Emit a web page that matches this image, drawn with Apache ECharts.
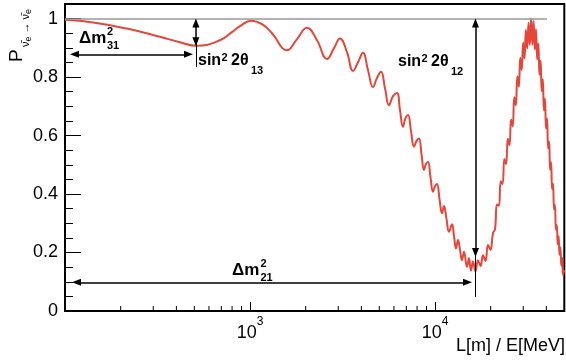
<!DOCTYPE html>
<html><head><meta charset="utf-8">
<script src="https://cdn.jsdelivr.net/npm/echarts@6/dist/echarts.min.js"></script>
<style>html,body{margin:0;padding:0;background:#fff}#c{width:566px;height:360px}</style>
</head><body><div id="c"></div>
<script>
// L/E values (m/MeV)
const lOverE = [100,142,216,326,418,517,688,799,883,1012,1161,1315,1585,1795,2033,2302,2608,2846,3065,3344,3606,3836,4081,4343,4623,4859,5107,5367,5641,5929,6232,6468,6714,6926,7147,7419,7699,7943,8194,8453,8720,8940,9167,9456,9755,10000,10250,10576,10910,11184,11538,11905,12358,12670,12990,13317,13652,13996,14348,14894,15268,15652,16046,16552,17078,17620,18180,18750,19349,19953,20588,
21110,21630,22150,22670,23190,23710,24230,24750,25270,25790,26310,26830,27350,27870,28390,28910,29430,29950,30470,30990,31510,32030,32550,33070,33590,34110,34630,35150,35670,36190,36710,37230,37750,38270,38790,39310,39830,40350,40870,41390,41910,42430,42950,43470,43990,44510,45030,45550,46070,46590,47110,47630,48150,48670,49190,50000];
// survival probability
const prob = [0.996,0.987,0.966,0.938,0.919,0.907,0.926,0.954,0.974,0.993,0.981,0.950,0.892,0.930,0.969,0.926,0.862,0.899,0.932,0.885,0.821,0.851,0.883,0.824,0.766,0.797,0.818,0.762,0.704,0.735,0.746,0.687,0.630,0.660,0.670,0.615,0.562,0.581,0.590,0.537,0.482,0.503,0.510,0.458,0.408,0.427,0.434,0.383,0.334,0.359,0.315,0.271,0.297,0.256,0.214,0.243,0.209,0.174,0.203,0.151,0.180,0.138,0.169,0.135,0.174,0.154,0.191,0.171,0.226,0.209,0.267,
0.280,0.364,0.360,0.444,0.434,0.520,0.502,0.589,0.567,0.655,0.632,0.731,0.704,0.803,0.767,0.866,0.824,0.918,0.864,0.962,0.898,0.986,0.910,1.000,0.911,0.992,0.895,0.964,0.861,0.915,0.808,0.856,0.752,0.793,0.686,0.726,0.624,0.658,0.557,0.580,0.483,0.509,0.416,0.435,0.347,0.363,0.278,0.294,0.228,0.256,0.192,0.218,0.156,0.182,0.124,0.140];
// axis tick values
const xMinorTicks = [200,300,400,500,600,700,800,900,2000,3000,4000,5000,6000,7000,8000,9000,20000,30000,40000];
const xLabelValues = [1000, 10000];
const xLabelExps = ['3', '4'];

const FONT = 'Liberation Sans, Arial, Helvetica, sans-serif';
const chart = echarts.init(document.getElementById('c'), null, {renderer: 'canvas'});

function txt(x, y, s, size, bold, extra) {
  return {
    type: 'text', x: x, y: y, silent: true, z: 100,
    style: Object.assign({text: s, fill: '#000', font: (bold ? 'bold ' : '') + size + 'px ' + FONT,
      align: 'left', verticalAlign: 'middle'}, extra || {})
  };
}

const graphics = [
  // Δm²31
  txt(79, 38, 'Δm', 17, true), txt(107, 31.5, '2', 11, true), txt(107, 46, '31', 11, true),
  // Δm²21
  txt(232, 270.5, 'Δm', 17, true), txt(260.5, 264, '2', 11, true), txt(260.5, 278, '21', 11, true),
  // sin² 2θ13
  txt(198, 61, 'sin', 16, true), txt(221.5, 57.5, '2', 11, true), txt(231, 61, '2θ', 16, true), txt(251, 70.5, '13', 11, true),
  // sin² 2θ12
  txt(398, 62, 'sin', 16, true), txt(421.5, 58.5, '2', 11, true), txt(431, 62, '2θ', 16, true), txt(451, 71.5, '12', 11, true),
  // x axis title
  txt(565, 346, 'L[m] / E[MeV]', 18, false, {align: 'right'}),
  // y axis title (rotated)
  {
    type: 'group', x: 17, y: 62, rotation: Math.PI / 2, silent: true, z: 100,
    children: [
      {type: 'text', x: 0, y: 0, style: {text: 'P', fill: '#000', font: '19px ' + FONT, align: 'left', verticalAlign: 'middle'}},
      {type: 'text', x: 15, y: 10, style: {text: '{n|\u03BD\u0304}{e|e}{n| \u2192 \u03BD\u0304}{e|e}', fill: '#000',
        font: '11px ' + FONT, align: 'left', verticalAlign: 'middle',
        rich: {n: {fontSize: 11, fontFamily: FONT, verticalAlign: 'top', lineHeight: 13}, e: {fontSize: 9, fontFamily: FONT, verticalAlign: 'bottom', lineHeight: 13}}}}
    ]
  }
];

const option = {
  animation: false,
  backgroundColor: '#fff',
  grid: {left: 65, right: 1.7, top: 4, bottom: 49, show: true, borderColor: '#000', borderWidth: 2, containLabel: false, outerBoundsMode: 'none'},
  xAxis: {
    type: 'log', logBase: 10, min: 100, max: 50000,
    axisLine: {show: false},
    splitLine: {show: false},
    axisTick: {show: true, inside: true, length: 9, lineStyle: {color: '#000', width: 1}},
    axisLabel: {
      margin: 5, showMinLabel: false, showMaxLabel: false, color: '#000',
      formatter: function (v) {
        for (let i = 0; i < xLabelValues.length; i++) {
          if (Math.abs(v - xLabelValues[i]) < 1) return '{b|10}{s|' + xLabelExps[i] + '}';
        }
        return '';
      },
      rich: {
        b: {fontSize: 18, fontFamily: FONT, color: '#000', lineHeight: 26, verticalAlign: 'bottom'},
        s: {fontSize: 12, fontFamily: FONT, color: '#000', lineHeight: 12, verticalAlign: 'top'}
      }
    }
  },
  yAxis: [
    {
      type: 'value', min: 0, max: 1.05, interval: 0.2, position: 'left',
      axisLine: {show: false}, splitLine: {show: false},
      axisTick: {show: true, inside: true, length: 16, lineStyle: {color: '#000', width: 1}},
      axisLabel: {margin: 7, showMaxLabel: false, color: '#000', fontSize: 18, fontFamily: FONT,
        formatter: function (v) { return v > 1.001 ? '' : String(+v.toFixed(1)); }}
    },
    {
      type: 'value', min: 0, max: 1.05, interval: 0.05, position: 'left', offset: 0,
      axisLine: {show: false}, splitLine: {show: false},
      axisTick: {show: true, inside: true, length: 8, lineStyle: {color: '#000', width: 1}},
      axisLabel: {show: false}
    }
  ],
  series: [
    {
      type: 'line', name: 'ref', data: [], silent: true, z: 1,
      markLine: {silent: true, animation: false, symbol: 'none', label: {show: false},
        lineStyle: {color: '#999', width: 1.5, type: 'solid'},
        data: [[{coord: [100, 1]}, {coord: [40300, 1]}]]}
    },
    {
      type: 'line', name: 'main', z: 3,
      data: lOverE.map((x, i) => [x, prob[i]]),
      showSymbol: false, smooth: 0.45,
      lineStyle: {color: '#e6463a', width: 2},
      itemStyle: {color: '#e6463a'}
    },
    {
      type: 'line', name: 'arrows', data: [], silent: true, z: 4,
      markLine: {silent: true, animation: false, symbol: ['triangle', 'triangle'], symbolSize: [7, 9], label: {show: false},
        lineStyle: {color: '#000', width: 1.5, type: 'solid'},
        data: [
          [{coord: [112.5, 0.878]}, {coord: [465, 0.878]}],
          [{coord: [115.4, 0.098]}, {coord: [14990, 0.098]}],
          [{coord: [510, 0.985]}, {coord: [510, 0.921]}],
          [{coord: [16550, 0.985]}, {coord: [16550, 0.2]}]
        ]}
    },
    {
      type: 'line', name: 'stems', data: [], silent: true, z: 4,
      markLine: {silent: true, animation: false, symbol: 'none', label: {show: false},
        lineStyle: {color: '#000', width: 1, type: 'solid'},
        data: [
          [{coord: [510, 0.921]}, {coord: [510, 0.834]}],
          [{coord: [16550, 0.2]}, {coord: [16550, 0.048]}]
        ]}
    },
    {
      type: 'custom', name: 'xminor', silent: true, z: 5, clip: false,
      data: xMinorTicks.map(v => [v, 0]),
      renderItem: function (params, api) {
        const p = api.coord([api.value(0), 0]);
        return {type: 'line', shape: {x1: p[0], y1: p[1], x2: p[0], y2: p[1] - 5},
          style: {stroke: '#000', lineWidth: 1}};
      }
    }
  ],
  graphic: graphics
};
chart.setOption(option);
</script>
</body></html>
